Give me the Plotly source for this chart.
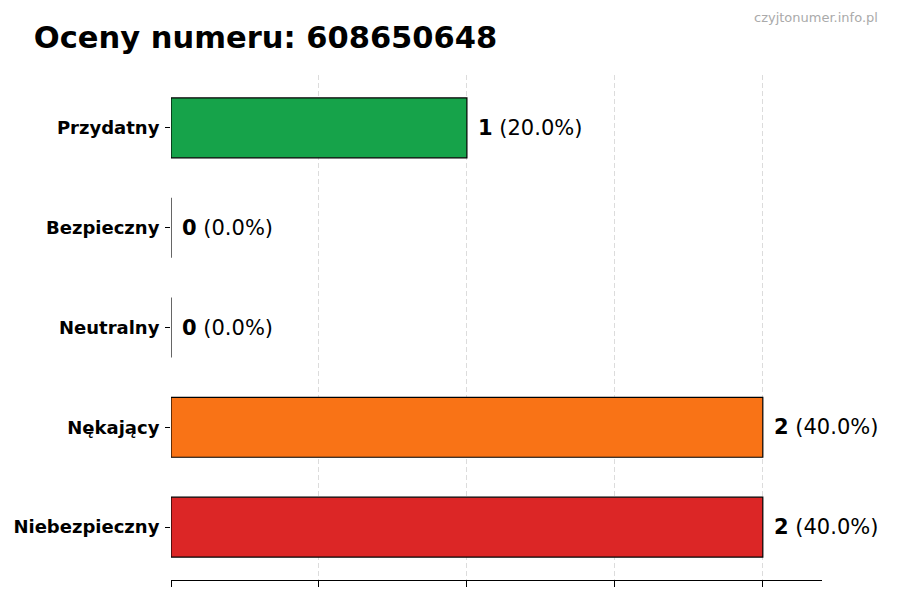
import plotly.graph_objects as go

# ── Data ───────────────────────────────────────────────────────────────────
NUMBER = "608650648"
categories = ["Przydatny", "Bezpieczny", "Neutralny", "Nękający", "Niebezpieczny"]
counts = [1, 0, 0, 2, 2]
colors = ["#16a34a", "#9ca3af", "#3b82f6", "#f97316", "#dc2626"]
grid_ticks = [0, 0.5, 1, 1.5, 2]

total = sum(counts)
pcts = [100.0 * c / total if total else 0.0 for c in counts]

FONT = "DejaVu Sans"

fig = go.Figure()
fig.add_trace(go.Bar(
    x=counts, y=categories, orientation="h", width=0.6,
    marker=dict(color=colors, line=dict(color="#000", width=1.2)),
    hoverinfo="skip",
))

# value labels next to bars
for cat, c, p in zip(categories, counts, pcts):
    fig.add_annotation(
        x=c, y=cat, xref="x", yref="y", xanchor="left", yanchor="middle",
        xshift=9, showarrow=False,
        text=f"<b>{c}</b> ({p:.1f}%)",
        font=dict(family=FONT, size=21, color="#000"),
    )

fig.add_annotation(
    x=1, y=1, xref="paper", yref="paper", xanchor="right", yanchor="top",
    xshift=58, yshift=67, showarrow=False,
    text="czyjtonumer.info.pl",
    font=dict(family=FONT, size=13, color="#aaa"),
)

# page body adds an 8px margin, so the figure is 8px smaller than the window
fig.update_layout(
    width=892, height=592,
    margin=dict(l=163, r=78, t=67, b=20, autoexpand=False),
    plot_bgcolor="white", paper_bgcolor="white",
    showlegend=False,
    title=dict(text=f"<b>Oceny numeru: {NUMBER}</b>", x=0.029, xanchor="left",
               y=0.95, yanchor="middle",
               font=dict(family=FONT, size=30.5, color="#000")),
    xaxis=dict(range=[0, 2.2], tickvals=grid_ticks, showticklabels=False,
               ticks="outside", ticklen=6, tickcolor="#000",
               showline=True, linecolor="#000", linewidth=1.2,
               showgrid=True, gridcolor="#dcdcdc", griddash="5px,3px", gridwidth=0.8,
               zeroline=False, fixedrange=True, automargin=False),
    yaxis=dict(categoryorder="array", categoryarray=categories,
               range=[4.53, -0.53], ticks="outside", ticklen=5, tickcolor="#000",
               showline=False, showgrid=False, zeroline=False,
               tickfont=dict(family=FONT, size=18, color="#000"),
               ticklabelstandoff=2, fixedrange=True, automargin=False),
)
fig.update_yaxes(tickprefix="<b>", ticksuffix="</b>")

fig.write_html("out.html")
